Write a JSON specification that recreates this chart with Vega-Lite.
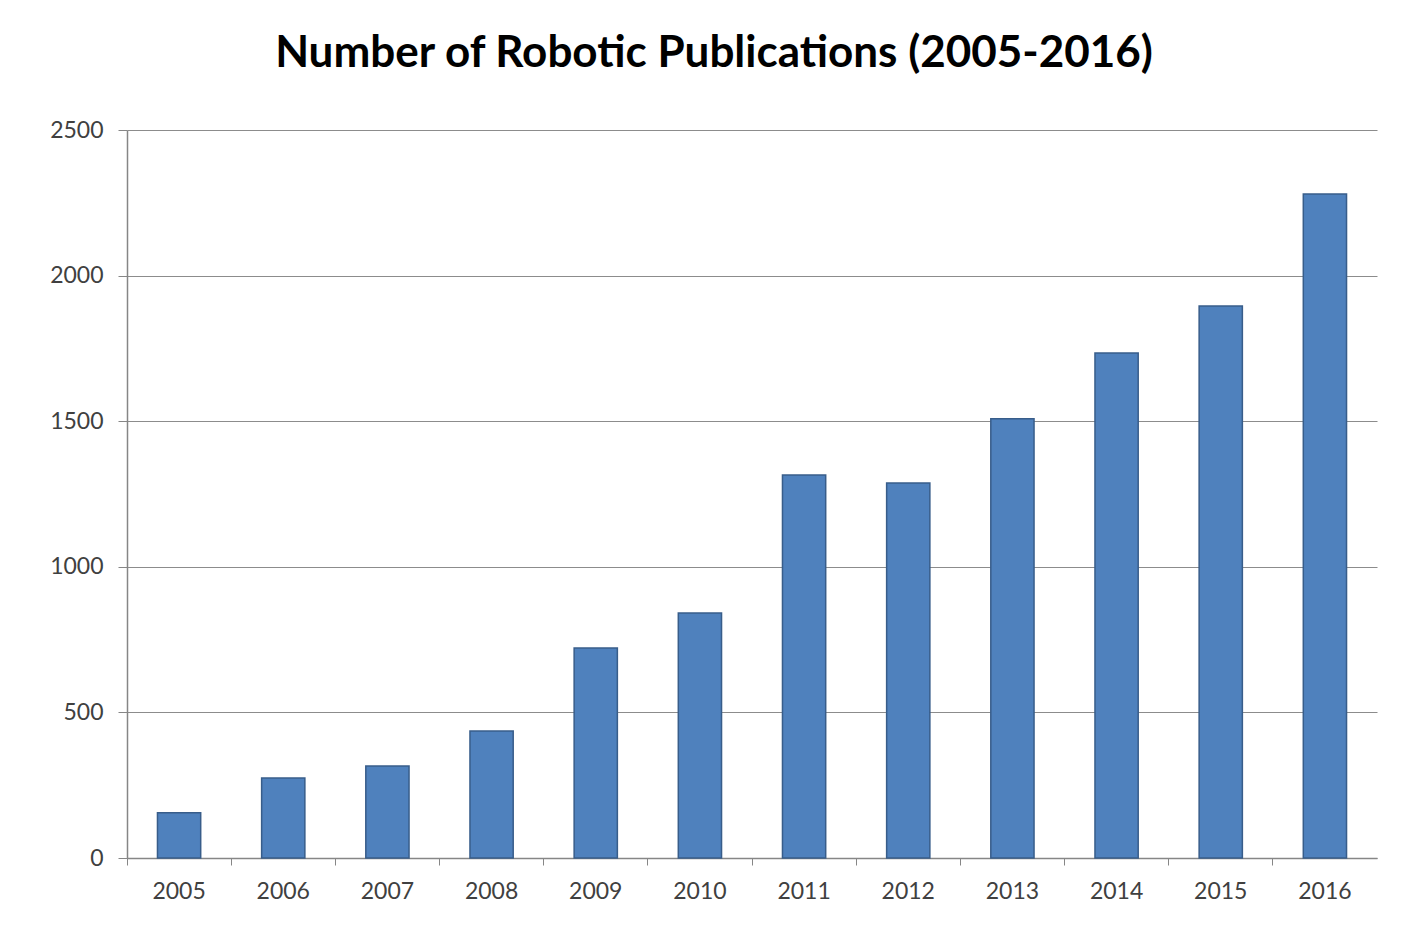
{
  "$schema": "https://vega.github.io/schema/vega-lite/v6.json",
  "autosize": {"type": "none"},
  "width": 1250,
  "height": 728,
  "padding": {"left": 127, "top": 130, "right": 27, "bottom": 79},
  "background": "white",
  "title": {
    "text": "Number of Robotic Publications (2005-2016)",
    "font": "Lato",
    "fontSize": 44,
    "fontWeight": "bold",
    "color": "#000000",
    "anchor": "middle",
    "dx": -38,
    "offset": 43
  },
  "data": {
    "values": [
      {"year": "2005", "publications": 155},
      {"year": "2006", "publications": 275},
      {"year": "2007", "publications": 316},
      {"year": "2008", "publications": 436},
      {"year": "2009", "publications": 721},
      {"year": "2010", "publications": 841},
      {"year": "2011", "publications": 1315},
      {"year": "2012", "publications": 1288},
      {"year": "2013", "publications": 1508},
      {"year": "2014", "publications": 1734},
      {"year": "2015", "publications": 1896},
      {"year": "2016", "publications": 2280}
    ]
  },
  "mark": {
    "type": "bar",
    "width": {"band": 0.415},
    "fill": "#4F81BD",
    "stroke": "#385D8A",
    "strokeWidth": 1.5
  },
  "encoding": {
    "x": {
      "field": "year",
      "type": "ordinal",
      "scale": {"paddingInner": 0, "paddingOuter": 0},
      "axis": {
        "title": null,
        "labelAngle": 0,
        "labelFont": "Lato",
        "labelFontSize": 23,
        "labelColor": "#404040",
        "labelPadding": 15,
        "bandPosition": 0,
        "tickSize": 7,
        "tickColor": "#868686",
        "domainColor": "#868686",
        "domainWidth": 1.5,
        "grid": false
      }
    },
    "y": {
      "field": "publications",
      "type": "quantitative",
      "scale": {"domain": [0, 2500], "nice": false},
      "axis": {
        "title": null,
        "values": [0, 500, 1000, 1500, 2000, 2500],
        "format": "d",
        "labelFont": "Lato",
        "labelFontSize": 23,
        "labelColor": "#404040",
        "labelPadding": 15,
        "tickSize": 9,
        "tickColor": "#868686",
        "domainColor": "#868686",
        "domainWidth": 1.5,
        "gridColor": "#8C8C8C",
        "gridWidth": 1.2,
        "gridOpacity": 1
      }
    }
  },
  "config": {"view": {"stroke": null}}
}
